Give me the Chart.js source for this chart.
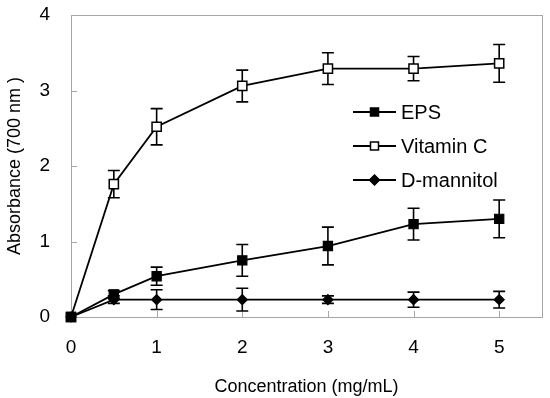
<!DOCTYPE html>
<html>
<head>
<meta charset="utf-8">
<script src="https://cdn.jsdelivr.net/npm/chart.js@4/dist/chart.umd.min.js"></script>
<style>
html,body{margin:0;padding:0;background:#fff;}
#wrap{width:550px;height:398px;position:relative;}
</style>
</head>
<body>
<div id="wrap"><canvas id="c" width="550" height="398"></canvas></div>
<script>
const concentrations = [0, 0.5, 1, 2, 3, 4, 5];
const epsValues = [0, 0.30, 0.54, 0.75, 0.94, 1.23, 1.30];
const epsErrors = [0.02, 0.05, 0.12, 0.21, 0.25, 0.21, 0.25];
const vitCValues = [0, 1.76, 2.52, 3.06, 3.29, 3.29, 3.36];
const vitCErrors = [0.02, 0.18, 0.24, 0.21, 0.21, 0.16, 0.25];
const mannitolValues = [0, 0.23, 0.23, 0.23, 0.23, 0.23, 0.23];
const mannitolErrors = [0.02, 0.05, 0.13, 0.15, 0.05, 0.10, 0.11];
const xTicks = [0, 1, 2, 3, 4, 5];
const yTicks = [0, 1, 2, 3, 4];
const seriesNames = ['EPS', 'Vitamin C', 'D-mannitol'];

function pts(vals){ return concentrations.map((x,i)=>({x:x, y:vals[i]})); }

const FONT = 'Liberation Sans, Arial, sans-serif';
const GRAY = '#a6a6a6';

const errorBars = {
  id: 'errorBars',
  beforeDatasetsDraw(chart){
    const ctx = chart.ctx, xs = chart.scales.x, ys = chart.scales.y;
    const errs = [epsErrors, vitCErrors, mannitolErrors];
    ctx.save();
    ctx.strokeStyle = '#000';
    ctx.lineWidth = 1.6;
    chart.data.datasets.forEach((ds, di)=>{
      ds.data.forEach((p, i)=>{
        const e = errs[di][i];
        if (!e || p.x === 0) return;
        const px = xs.getPixelForValue(p.x);
        const top = ys.getPixelForValue(p.y + e);
        const bot = ys.getPixelForValue(p.y - e);
        ctx.beginPath();
        ctx.moveTo(px, top); ctx.lineTo(px, bot);
        ctx.moveTo(px-6, top); ctx.lineTo(px+6, top);
        ctx.moveTo(px-6, bot); ctx.lineTo(px+6, bot);
        ctx.stroke();
      });
    });
    ctx.restore();
  }
};

const frame = {
  id: 'frame',
  beforeDatasetsDraw(chart){
    const ctx = chart.ctx, a = chart.chartArea, xs = chart.scales.x, ys = chart.scales.y;
    ctx.save();
    ctx.strokeStyle = GRAY;
    ctx.lineWidth = 1;
    ctx.strokeRect(Math.round(a.left)+0.5, Math.round(a.top)+0.5, Math.round(a.right-a.left), Math.round(a.bottom-a.top));
    ctx.beginPath();
    yTicks.forEach(v=>{
      const y = Math.round(ys.getPixelForValue(v))+0.5;
      ctx.moveTo(a.left, y); ctx.lineTo(a.left+6, y);
    });
    xTicks.forEach(v=>{
      const x = Math.round(xs.getPixelForValue(v))+0.5;
      ctx.moveTo(x, a.bottom); ctx.lineTo(x, a.bottom-6);
    });
    ctx.stroke();
    ctx.restore();
  }
};

const legendBox = {
  id: 'legendBox',
  afterDraw(chart){
    const ctx = chart.ctx;
    const rows = [112, 146, 180];
    ctx.save();
    ctx.font = '20px ' + FONT;
    ctx.textBaseline = 'middle';
    ctx.fillStyle = '#000';
    chart.data.datasets.forEach((ds, i)=>{
      const y = rows[i];
      ctx.strokeStyle = '#000';
      ctx.lineWidth = 1.8;
      ctx.beginPath(); ctx.moveTo(353, y); ctx.lineTo(396, y); ctx.stroke();
      const cx = 374.5;
      ctx.lineWidth = 1.5;
      ctx.beginPath();
      if (ds.pointStyle === 'rect') {
        ctx.rect(cx-4, y-4, 8, 8);
      } else {
        ctx.moveTo(cx-5, y); ctx.lineTo(cx, y-5); ctx.lineTo(cx+5, y); ctx.lineTo(cx, y+5); ctx.closePath();
      }
      ctx.fillStyle = ds.pointBackgroundColor;
      ctx.fill(); ctx.stroke();
      ctx.fillStyle = '#000';
      ctx.fillText(seriesNames[i], 401, y+1);
    });
    ctx.restore();
  }
};

new Chart(document.getElementById('c'), {
  type: 'line',
  data: {
    datasets: [
      { label: seriesNames[0], data: pts(epsValues), borderColor:'#000', borderWidth:1.8,
        pointStyle:'rect', pointRadius:6.5, pointBackgroundColor:'#000', pointBorderColor:'#000', pointBorderWidth:1.2 },
      { label: seriesNames[1], data: pts(vitCValues), borderColor:'#000', borderWidth:1.8,
        pointStyle:'rect', pointRadius:6.5, pointBackgroundColor:'#fff', pointBorderColor:'#000', pointBorderWidth:1.5 },
      { label: seriesNames[2], data: pts(mannitolValues), borderColor:'#000', borderWidth:1.8,
        pointStyle:'rectRot', pointRadius:5, pointBackgroundColor:'#000', pointBorderColor:'#000', pointBorderWidth:1.2 }
    ]
  },
  options: {
    responsive: false,
    animation: false,
    clip: false,
    layout: { padding: { top: 15, right: 6, left: 0, bottom: 0 } },
    plugins: { legend: { display:false }, tooltip: { enabled:false } },
    scales: {
      x: {
        type: 'linear', min: 0, max: 5.5,
        afterBuildTicks(s){ s.ticks = xTicks.map(v=>({value:v})); },
        afterFit(s){ s.height = 81; s.paddingLeft = 0; s.paddingRight = 0; },
        grid: { display:false, drawTicks:false },
        border: { display:false },
        ticks: { color:'#000', font:{ family: FONT, size:19 }, padding: 19 },
        title: { display:true, text:'Concentration (mg/mL)', color:'#000', font:{ family: FONT, size:18 }, padding:{ top: 8, bottom: 0 } }
      },
      y: {
        type: 'linear', min: 0, max: 4,
        afterBuildTicks(s){ s.ticks = yTicks.map(v=>({value:v})); },
        afterFit(s){ s.width = 71; s.paddingTop = 0; s.paddingBottom = 0; },
        grid: { display:false, drawTicks:false },
        border: { display:false },
        ticks: { color:'#000', font:{ family: FONT, size:19 }, padding: 21 },
        title: { display:true, text:'Absorbance (700 nm )', color:'#000', font:{ family: FONT, size:18 }, padding:{ top: 4, bottom: 0 } }
      }
    }
  },
  plugins: [frame, errorBars, legendBox]
});
</script>
</body>
</html>
